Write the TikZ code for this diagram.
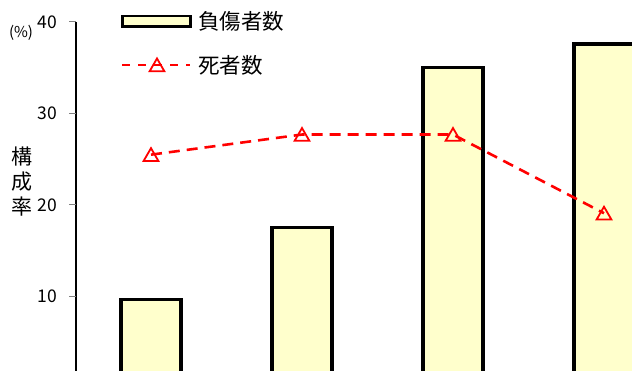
\documentclass[tikz,border=0pt]{standalone}
\usepackage{fontspec}
\setmainfont{Noto Sans CJK JP}
\usetikzlibrary{shapes.geometric}
\definecolor{barfill}{HTML}{FFFFCC}
\definecolor{deadred}{HTML}{FF0000}

\begin{document}
\begin{tikzpicture}[x=1pt,y=1pt,
	bar/.style={draw=black,line width=3.2pt,fill=barfill},
	deadline/.style={deadred,line width=2.6pt,dash pattern=on 11pt off 7pt},
	tri/.style={regular polygon,regular polygon sides=3,draw=deadred,line width=1.8pt,minimum size=17pt,inner sep=0pt,yshift=-2pt},
	ticklabel/.style={anchor=east,inner sep=0pt,font=\fontsize{17.5}{17.5}\selectfont},
	legendtext/.style={anchor=west,inner sep=0pt,font=\fontsize{21.5}{21.5}\selectfont}]
			\useasboundingbox (0,0) rectangle (632,371);
			\clip (0,0) rectangle (632,371);
			\begin{scope}[yshift=-17pt,y=9.15pt]
				% bars
				\foreach \x/\v in {151/9.7, 302/17.5, 453/35.0, 604/37.6} {\draw[bar] (\x-30,-3) rectangle (\x+30,\v);};
				% axis and ticks
				\draw[line width=1.5pt] (76,-3) -- (76,40);
				\foreach \v in {10,20,30,40} {\draw[gray,line width=1pt] (69,\v) -- (76,\v); \node[ticklabel] (t\v) at (57,\v) {\v};};
				% deaths
				\foreach \i/\x/\v in {1/151/25.5, 2/302/27.7, 3/453/27.7, 4/604/19.1} {\coordinate (d\i) at (\x,\v); \node[tri] (m\i) at (d\i) {};};
				\draw[deadline] (d1) -- (d2) -- (d3) -- (d4);
			\end{scope}
			% legend
			\draw[bar,line width=2.8pt] (122.5,344.5) rectangle (190.5,355);
			\node[legendtext] (injured) at (198,350) {負傷者数};
			\coordinate (la) at (122,306);
			\coordinate (lb) at (190,306);
			\draw[deadline,dash pattern=on 8pt off 8pt] (la) -- (lb);
			\node[tri] (lm) at (157,306) {};
			\node[legendtext] (dead) at (198,306) {死者数};
			% axis title
			\node[font=\fontsize{15}{15}\selectfont,inner sep=0pt] (unit) at (21,338) {(\%)};
			\node[font=\fontsize{21}{25}\selectfont,align=center,inner sep=0pt] (ratio) at (22,189) {構\\成\\率};
		\end{tikzpicture}
\end{document}
